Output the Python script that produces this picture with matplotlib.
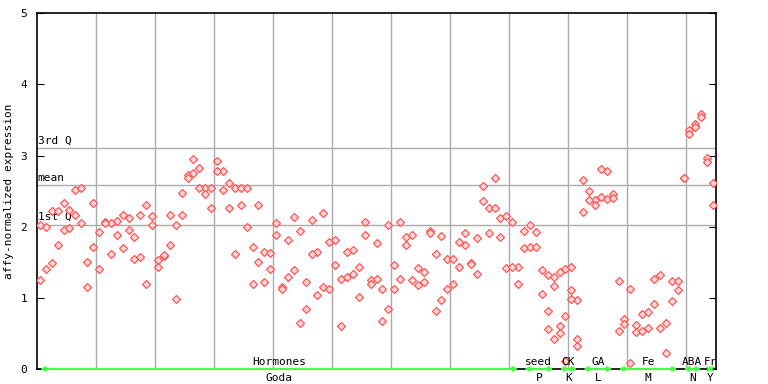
import numpy as np
import matplotlib
matplotlib.use('Agg')
import matplotlib.pyplot as plt

# replicate values per sample (sample index = position on x)
rep1 = [2.02, 1.99, 2.22, 2.22, 2.33, 2.24, 2.51, 2.55, 1.51, 2.34,
        1.92, 2.06, 2.05, 2.08, 2.17, 2.12, 1.85, 2.16, 2.30, 2.15,
        1.53, 1.59, 2.16, 2.02, 2.47, 2.72, 2.95, 2.82, 2.54, 2.54,
        2.93, 2.78, 2.62, 2.54, 2.54, 2.55, 1.71, 2.31, 1.64, 1.63,
        2.05, 1.15, 1.82, 2.13, 1.94, 1.22, 2.09, 1.65, 2.19, 1.79,
        1.82, 1.27, 1.65, 1.67, 1.44, 2.06, 1.25, 1.77, 1.12, 2.02,
        1.46, 2.06, 1.85, 1.89, 1.42, 1.37, 1.94, 1.61, 1.87, 1.54,
        1.54, 1.79, 1.91, 1.49, 1.84, 2.57, 2.26, 2.69, 2.12, 2.15,
        2.06, 1.44, 1.94, 2.02, 1.92, 1.39, 1.32, 1.29, 1.36, 1.40,
        1.43, 0.97, 2.65, 2.50, 2.37, 2.81, 2.79, 2.46, 1.23, 0.70,
        1.12, 0.62, 0.77, 0.80, 1.26, 1.32, 0.64, 1.23, 1.23, 2.69,
        3.36, 3.44, 3.58, 2.97, 2.62]
rep2 = [1.25, 1.40, 1.49, 1.74, 1.95, 1.98, 2.16, 2.05, 1.15, 1.71,
        1.40, 2.05, 1.61, 1.88, 1.70, 1.95, 1.54, 1.58, 1.19, 2.03,
        1.44, 1.60, 1.75, 0.99, 2.17, 2.69, 2.76, 2.55, 2.46, 2.26,
        2.78, 2.51, 2.26, 1.61, 2.30, 1.99, 1.19, 1.51, 1.22, 1.40,
        1.88, 1.12, 1.30, 1.39, 0.64, 0.84, 1.61, 1.04, 1.15, 1.13,
        1.46, 0.60, 1.29, 1.34, 1.01, 1.88, 1.19, 1.27, 0.67, 0.85,
        1.12, 1.27, 1.75, 1.25, 1.18, 1.22, 1.91, 0.82, 0.97, 1.13,
        1.19, 1.43, 1.75, 1.48, 1.34, 2.36, 1.91, 2.27, 1.85, 1.42,
        1.44, 1.20, 1.70, 1.71, 1.72, 1.05, 0.82, 1.16, 0.60, 0.75,
        1.11, 0.42, 2.20, 2.37, 2.31, 2.42, 2.39, 2.40, 0.54, 0.63,
        0.08, 0.52, 0.53, 0.57, 0.92, 0.57, 0.22, 0.95, 1.11, 2.69,
        3.31, 3.40, 3.54, 2.91, 2.30]
# third replicate only for samples 86-91
rep3_idx = [86, 87, 88, 89, 90, 91]
rep3 = [0.56, 0.42, 0.50, 0.11, 0.99, 0.32]

# experiment groups: first sample, last sample, label above, label below
group_start = [0, 82, 88, 92, 98, 109, 113]
group_end = [81, 87, 91, 97, 108, 112, 114]
group_top = ['Hormones', 'seed', 'CK', 'GA', 'Fe', 'ABA', 'Fr']
group_bottom = ['Goda', 'P', 'K', 'L', 'M', 'N', 'Y']

q1, mean, q3 = 2.03, 2.58, 3.10

mono = 'DejaVu Sans Mono'
n = len(rep1)
x = np.arange(n) + 0.5

fig = plt.figure(figsize=(7.68, 3.84), dpi=100)
ax = fig.add_axes([37 / 768, 15 / 384, 679 / 768, 355.7 / 384])

# vertical grid every 10 samples
for gx in range(10, n, 10):
    ax.axvline(gx, color='#aaaaaa', lw=1.0, zorder=1)
for val, name in [(q1, '1st Q'), (mean, 'mean'), (q3, '3rd Q')]:
    ax.axhline(val, color='#aaaaaa', lw=1.0, zorder=1)
    ax.text(0.1, val + 0.04, name, family=mono, fontsize=8, va='bottom', ha='left', zorder=3)

mk = dict(marker='D', markersize=4.2, markerfacecolor='#ffdada', markeredgecolor='#ff5555',
          markeredgewidth=0.9, linestyle='none', zorder=4)
ax.plot(x, rep1, **mk)
ax.plot(x, rep2, **mk)
ax.plot(np.array(rep3_idx) + 0.5, rep3, **mk)

# group arrows and labels
for s, e, top, bot in zip(group_start, group_end, group_top, group_bottom):
    ax.annotate('', xy=(e + 0.5, 0), xytext=(s + 0.5, 0), annotation_clip=False,
                arrowprops=dict(arrowstyle='<->', color='#44ff44', lw=1.6,
                                mutation_scale=6, shrinkA=0, shrinkB=0), zorder=5)
    c = (s + e + 1) / 2
    ax.text(c, 0.03, top, family=mono, fontsize=8, ha='center', va='bottom', zorder=6)
    ax.text(c, -0.05, bot, family=mono, fontsize=8, ha='center', va='top', clip_on=False)

ax.set_xlim(0, n)
ax.set_ylim(0, 5)
ax.set_xticks([])
ax.set_yticks([0, 1, 2, 3, 4, 5])
ax.tick_params(axis='y', direction='in', length=5, right=True, labelsize=8, pad=7)
for lab in ax.get_yticklabels():
    lab.set_family(mono)
for sp in ax.spines.values():
    sp.set_color('black')
    sp.set_linewidth(1.2)
ax.set_ylabel('affy-normalized expression', family=mono, fontsize=8, labelpad=5)

plt.savefig('out.png', dpi=100)
plt.close()
